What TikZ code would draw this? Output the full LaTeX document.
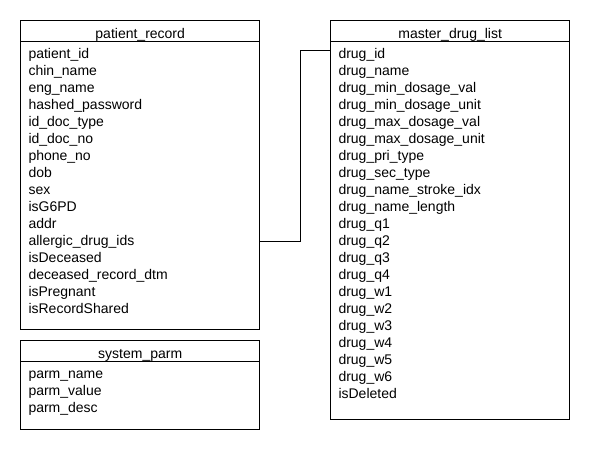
\documentclass[tikz,border=0pt]{standalone}
\usepackage{fontspec}
\setmainfont{Liberation Sans}
\usetikzlibrary{positioning}
\begin{document}
\begin{tikzpicture}[x=1pt, y=-1pt, line width=1pt]
    \def\twidth{239.4pt}
    \def\rowstep{17}
    \tikzstyle{tbox}=[draw, anchor=north west, inner sep=0pt, minimum width=\twidth]
    \tikzstyle{thead}=[draw, anchor=north, inner sep=0pt, minimum width=\twidth, minimum height=20.7pt, text height=14.5pt, text depth=0pt]
    \tikzstyle{tfield}=[anchor=base west, inner sep=0pt]
    \tikzstyle{link}=[line width=1pt]

    \fontsize{14}{17}\selectfont

    \useasboundingbox (0,0) rectangle (590,450);

    % patient_record
    \node[tbox, minimum height=309.3pt] (pr) at (20,20) {};
    \node[thead] (prhead) at (pr.north) {patient\_record};
    \foreach \f [count=\i] in {patient\_id, chin\_name, eng\_name, hashed\_password,
        id\_doc\_type, id\_doc\_no, phone\_no, dob, sex, isG6PD, addr,
        allergic\_drug\_ids, isDeceased, deceased\_record\_dtm, isPregnant, isRecordShared}
        \node[tfield] (pr-\i) at (28, {41.5+\rowstep*\i}) {\f};

    % system_parm
    \node[tbox, minimum height=89pt] (sp) at (20,340.3) {};
    \node[thead] (sphead) at (sp.north) {system\_parm};
    \foreach \f [count=\i] in {parm\_name, parm\_value, parm\_desc}
        \node[tfield] (sp-\i) at (28, {361.1+\rowstep*\i}) {\f};

    % master_drug_list
    \node[tbox, minimum height=399.3pt] (mdl) at (330,20) {};
    \node[thead] (mdlhead) at (mdl.north) {master\_drug\_list};
    \foreach \f [count=\i] in {drug\_id, drug\_name, drug\_min\_dosage\_val,
        drug\_min\_dosage\_unit, drug\_max\_dosage\_val, drug\_max\_dosage\_unit,
        drug\_pri\_type, drug\_sec\_type, drug\_name\_stroke\_idx, drug\_name\_length,
        drug\_q1, drug\_q2, drug\_q3, drug\_q4, drug\_w1, drug\_w2, drug\_w3,
        drug\_w4, drug\_w5, drug\_w6, isDeleted}
        \node[tfield] (mdl-\i) at (338, {41.5+\rowstep*\i}) {\f};

    \coordinate (bend) at (300,50.7);
    \draw[link] (pr-12 -| pr.east) -| (bend) -- (bend -| mdl.west);

\end{tikzpicture}
\end{document}
